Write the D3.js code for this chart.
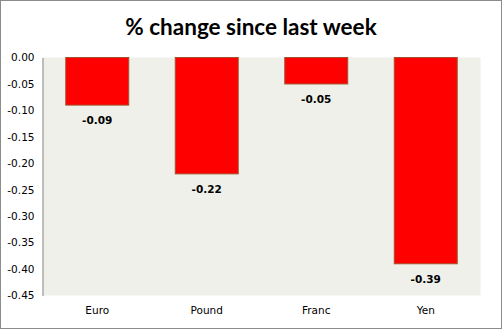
<!DOCTYPE html>
<html><head><meta charset="utf-8">
<script src="https://cdn.jsdelivr.net/npm/d3@7"></script>
<style>html,body{margin:0;padding:0;background:#fff;}svg{display:block;}</style>
</head><body>
<script>
const categories = ["Euro", "Pound", "Franc", "Yen"];
const values = [-0.09, -0.22, -0.05, -0.39];
const yTicks = [0, -0.05, -0.10, -0.15, -0.20, -0.25, -0.30, -0.35, -0.40, -0.45];
const title = "% change since last week";

const W = 502, H = 329;
const plot = {left: 42.5, top: 57.5, right: 480.5, bottom: 295.5};

const svg = d3.select("body").append("svg").attr("width", W).attr("height", H);

// outer frame
svg.append("rect").attr("x", 0.5).attr("y", 0.5).attr("width", W - 1).attr("height", H - 1)
  .attr("fill", "#fff").attr("stroke", "#8c8c8c").attr("stroke-width", 1);

// plot background
svg.append("rect").attr("x", plot.left).attr("y", plot.top)
  .attr("width", plot.right - plot.left).attr("height", plot.bottom - plot.top)
  .attr("fill", "#eef0e9");

const x = d3.scaleBand().domain(categories).range([plot.left, plot.right]).paddingInner(0.425).paddingOuter(0.2125);
const y = d3.scaleLinear().domain([-0.45, 0]).range([plot.bottom, plot.top]);

svg.append("text").attr("x", 251).attr("y", 35).attr("text-anchor", "middle")
  .attr("font-family", "Lato, 'Open Sans', sans-serif").attr("font-weight", "bold")
  .attr("font-size", 22.5).attr("fill", "#000").text(title);

// bars
svg.selectAll("rect.bar").data(values).join("rect").attr("class", "bar")
  .attr("x", (d, i) => x(categories[i]))
  .attr("y", d => y(0))
  .attr("width", x.bandwidth())
  .attr("height", d => y(d) - y(0))
  .attr("fill", "#ff0000").attr("stroke", "#a0522d").attr("stroke-width", 1);

// value labels
svg.selectAll("text.val").data(values).join("text").attr("class", "val")
  .attr("x", (d, i) => x(categories[i]) + x.bandwidth() / 2)
  .attr("y", d => y(d) + 19)
  .attr("text-anchor", "middle")
  .attr("font-family", "'DejaVu Sans', sans-serif").attr("font-weight", "bold")
  .attr("font-size", 10.5).attr("fill", "#000")
  .text(d => d.toFixed(2));

// y axis
const yAxis = d3.axisLeft(y).tickValues(yTicks).tickSize(0).tickPadding(8)
  .tickFormat(d => d3.format(".2f")(d).replace("−", "-"));
const gy = svg.append("g").attr("transform", `translate(${plot.left},0)`).call(yAxis);
gy.select(".domain").attr("stroke", "#888").attr("stroke-width", 1);
gy.selectAll("text").attr("font-family", "'DejaVu Sans', sans-serif").attr("font-size", 10.5).attr("fill", "#000");

// x axis labels
const xAxis = d3.axisBottom(x).tickSize(0).tickPadding(11);
const gx = svg.append("g").attr("transform", `translate(0,${plot.bottom})`).call(xAxis);
gx.select(".domain").remove();
gx.selectAll("text").attr("font-family", "'DejaVu Sans', sans-serif").attr("font-size", 10.5).attr("fill", "#000");
</script>
</body></html>
